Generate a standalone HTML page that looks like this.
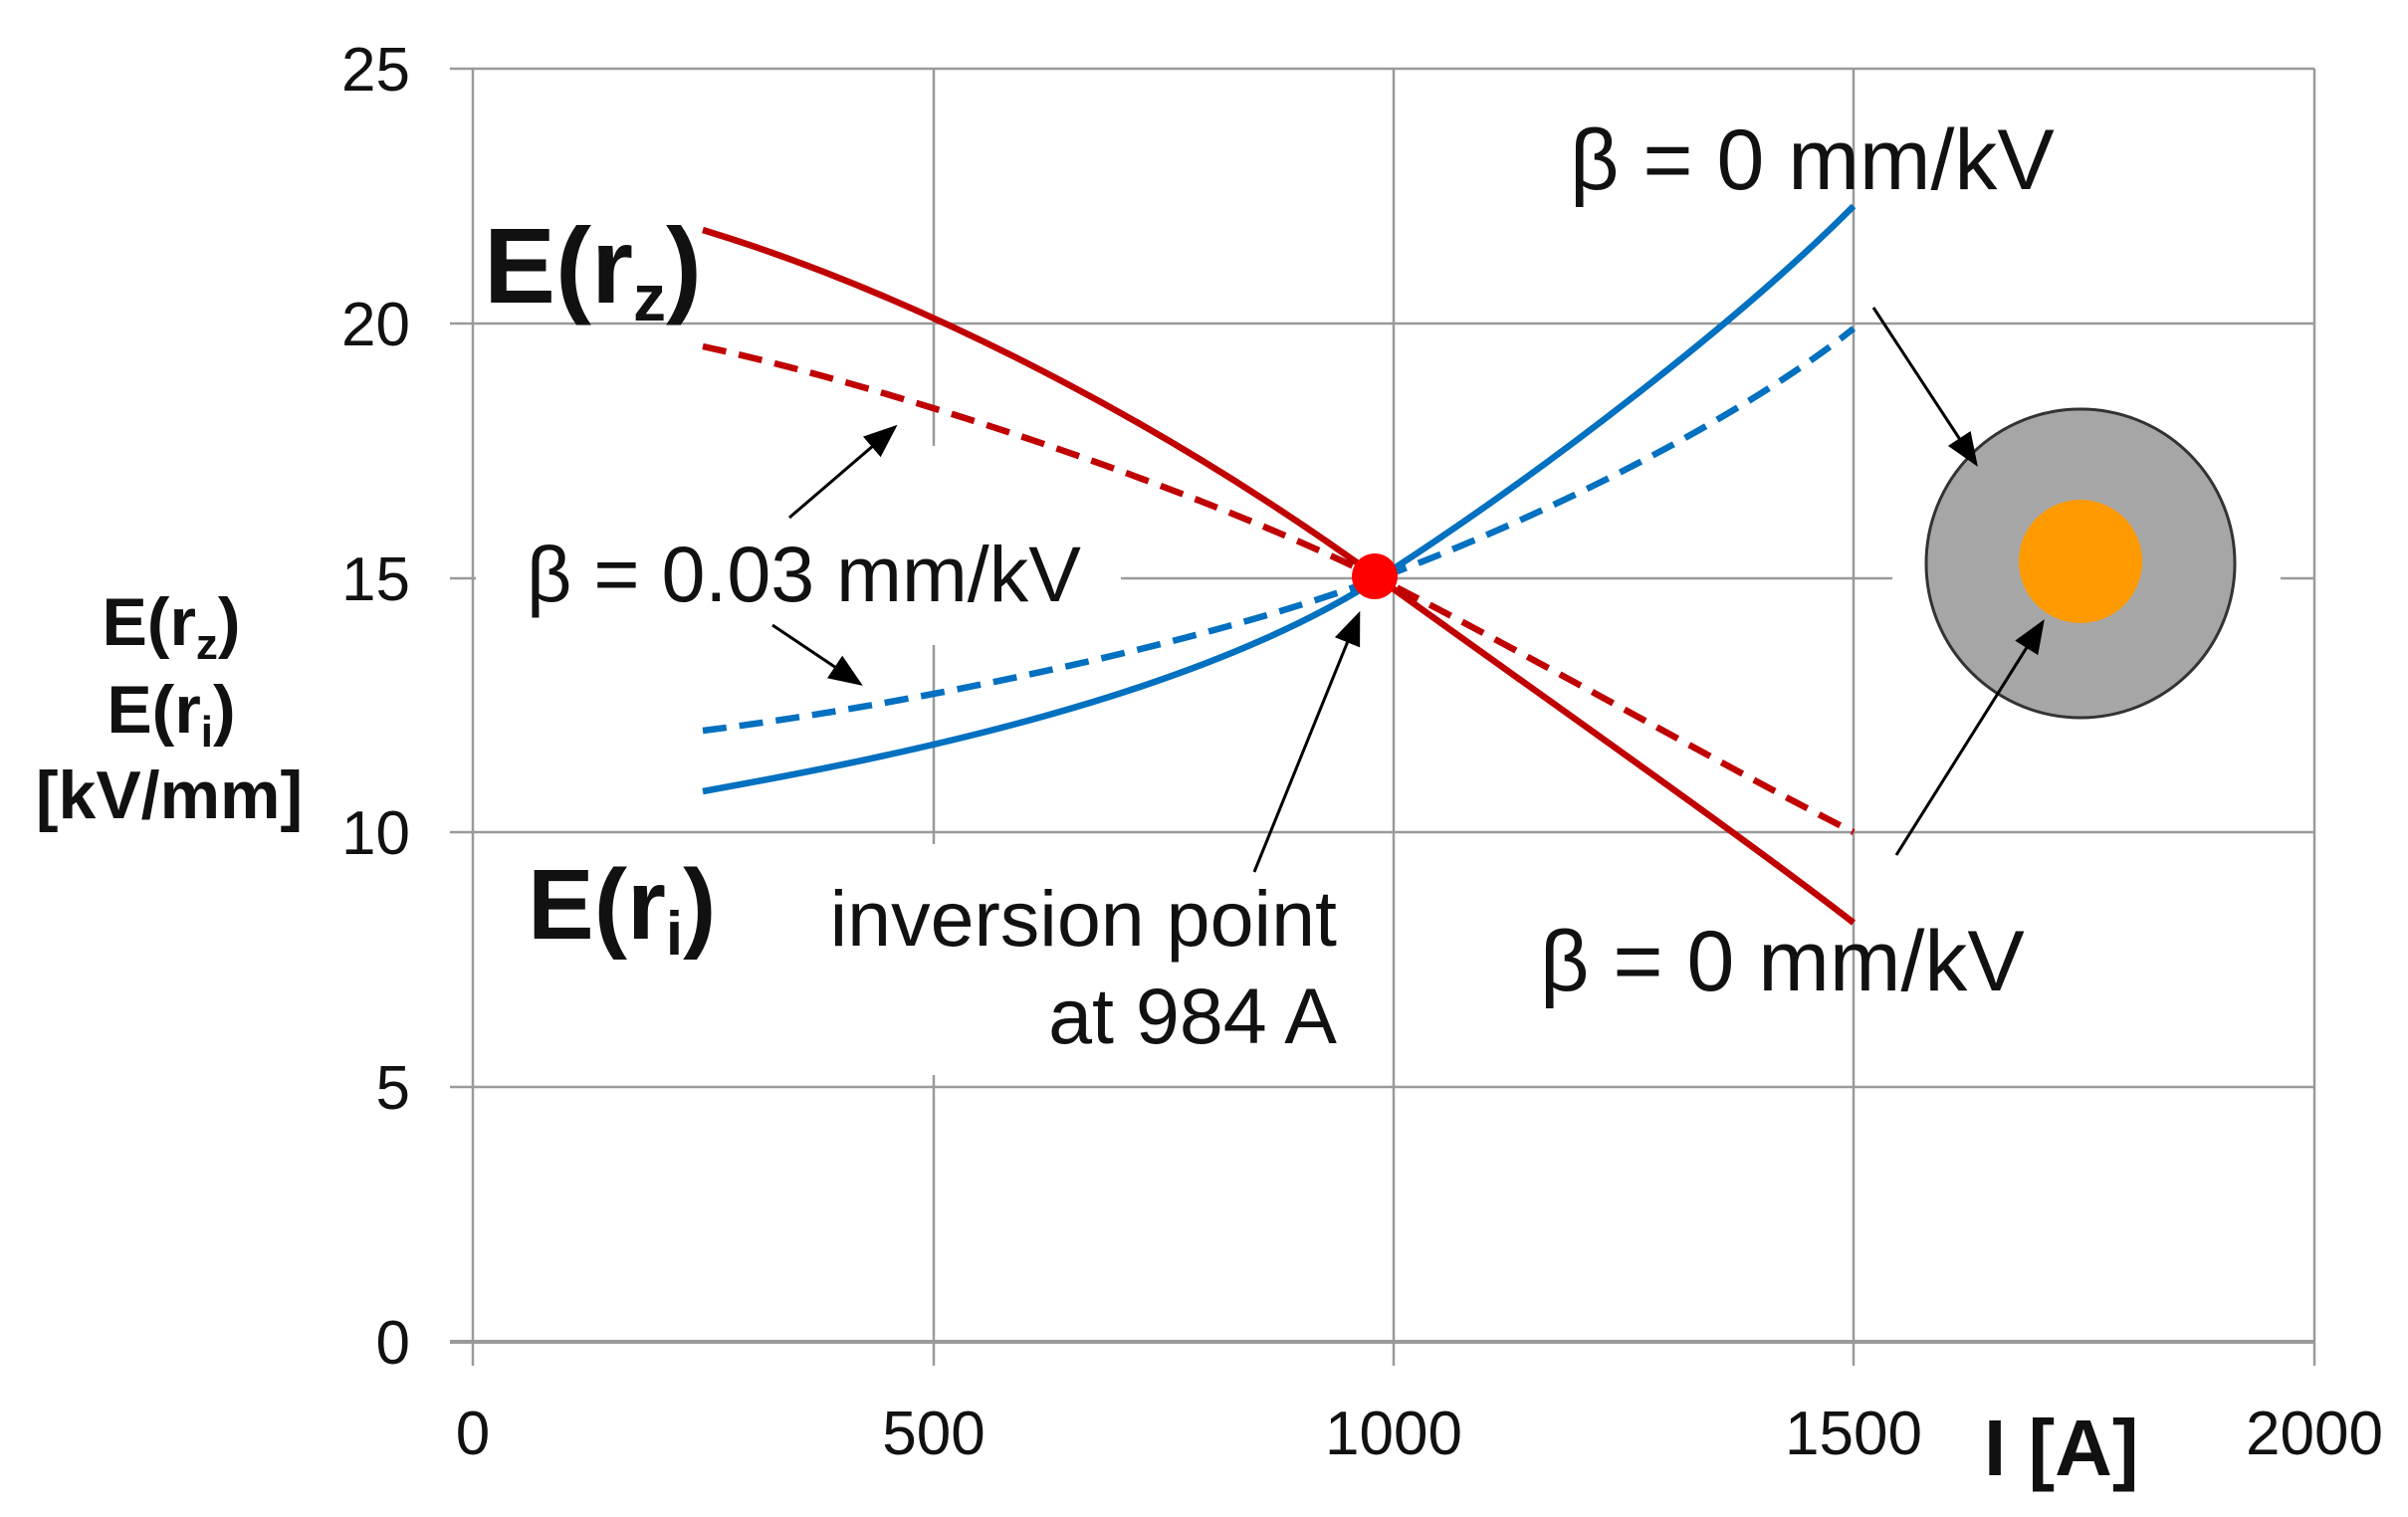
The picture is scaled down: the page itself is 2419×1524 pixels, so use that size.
<!DOCTYPE html>
<html><head><meta charset="utf-8"><style>
html,body{margin:0;padding:0;background:#fff;}
svg{display:block;}
text{font-family:"Liberation Sans",sans-serif;}
</style></head><body>
<svg width="2419" height="1524" viewBox="0 0 2419 1524" xmlns="http://www.w3.org/2000/svg">
<defs>
<marker id="ah2" viewBox="0 0 10 10" refX="9" refY="5" markerWidth="34" markerHeight="34" markerUnits="userSpaceOnUse" orient="auto">
<path d="M0,1 L10,5 L0,9 z" fill="#000"/>
</marker>
</defs>
<g stroke="#9a9a9a" stroke-width="2.5">
<line x1="475" y1="69" x2="2325" y2="69"/>
<line x1="475" y1="325" x2="2325" y2="325"/>
<line x1="475" y1="581" x2="2325" y2="581"/>
<line x1="475" y1="836" x2="2325" y2="836"/>
<line x1="475" y1="1092" x2="2325" y2="1092"/>
<line x1="452" y1="1348" x2="2325" y2="1348" stroke-width="4"/>
<line x1="452" y1="69" x2="475" y2="69"/>
<line x1="452" y1="325" x2="475" y2="325"/>
<line x1="452" y1="581" x2="475" y2="581"/>
<line x1="452" y1="836" x2="475" y2="836"/>
<line x1="452" y1="1092" x2="475" y2="1092"/>
<line x1="475" y1="69" x2="475" y2="1372"/>
<line x1="938" y1="69" x2="938" y2="1372"/>
<line x1="1400" y1="69" x2="1400" y2="1372"/>
<line x1="1862" y1="69" x2="1862" y2="1372"/>
<line x1="2325" y1="69" x2="2325" y2="1372"/>
</g>
<rect x="478" y="448" width="648" height="200" fill="#fff"/>
<rect x="802" y="848" width="555" height="232" fill="#fff"/>
<rect x="1901" y="400" width="390" height="340" fill="#fff"/>
<g font-size="62" fill="#111" text-anchor="end">
<text x="412" y="91">25</text>
<text x="412" y="347">20</text>
<text x="412" y="603">15</text>
<text x="412" y="858">10</text>
<text x="412" y="1114">5</text>
<text x="412" y="1370">0</text>
</g>
<g font-size="62" fill="#111" text-anchor="middle">
<text x="475" y="1461">0</text>
<text x="938" y="1461">500</text>
<text x="1400" y="1461">1000</text>
<text x="1862" y="1461">1500</text>
<text x="2325" y="1461">2000</text>
</g>
<g fill="none" stroke-width="6.5" stroke-linecap="butt" stroke-linejoin="round">
<path stroke="#C00000" d="M706,231 C900,290 1150,410 1385,581 C1550,700 1750,840 1862,927"/>
<path stroke="#0070C0" d="M706,795 C900,760 1200,700 1385,581 C1550,475 1750,320 1862,207"/>
<path stroke="#C00000" stroke-dasharray="24,13" d="M706,348 C900,390 1200,490 1385,581 C1550,665 1750,780 1862,836"/>
<path stroke="#0070C0" stroke-dasharray="24,13" d="M706,734 C900,710 1200,650 1385,581 C1550,520 1750,420 1862,330"/>
</g>
<circle cx="1381" cy="579" r="23" fill="#FF0000"/>
<circle cx="2090" cy="566" r="155" fill="#A6A6A6" stroke="#333" stroke-width="3"/>
<circle cx="2090" cy="564" r="62" fill="#FF9900"/>
<g stroke="#000" stroke-width="3" fill="none">
<line x1="793" y1="520" x2="899" y2="429" marker-end="url(#ah2)"/>
<line x1="776" y1="628" x2="864" y2="687" marker-end="url(#ah2)"/>
<line x1="1260" y1="876" x2="1365" y2="617" marker-end="url(#ah2)"/>
<line x1="1882" y1="309" x2="1985" y2="466" marker-end="url(#ah2)"/>
<line x1="1905" y1="859" x2="2052" y2="625" marker-end="url(#ah2)"/>
</g>
<g fill="#111">
<text x="1577" y="190" font-size="86">β = 0 mm/kV</text>
<text x="1547" y="995" font-size="86">β = 0 mm/kV</text>
<text x="529" y="604" font-size="79">β = 0.03 mm/kV</text>
<text x="1343" y="950" font-size="79" text-anchor="end">inversion point</text>
<text x="1343" y="1048" font-size="79" text-anchor="end">at 984 A</text>
<text x="486" y="304" font-size="108" font-weight="bold">E(r<tspan font-size="66" dy="18">z</tspan><tspan dy="-18">)</tspan></text>
<text x="530" y="943" font-size="100" font-weight="bold">E(r<tspan font-size="62" dy="16">i</tspan><tspan dy="-16">)</tspan></text>
<g font-size="68" font-weight="bold" text-anchor="middle">
<text x="172" y="648">E(r<tspan font-size="44" dy="14">z</tspan><tspan dy="-14">)</tspan></text>
<text x="172" y="736">E(r<tspan font-size="44" dy="14">i</tspan><tspan dy="-14">)</tspan></text>
<text x="170" y="822">[kV/mm]</text>
</g>
<text x="1993" y="1482" font-size="80" font-weight="bold">I  [A]</text>
</g>
</svg>
</body></html>
